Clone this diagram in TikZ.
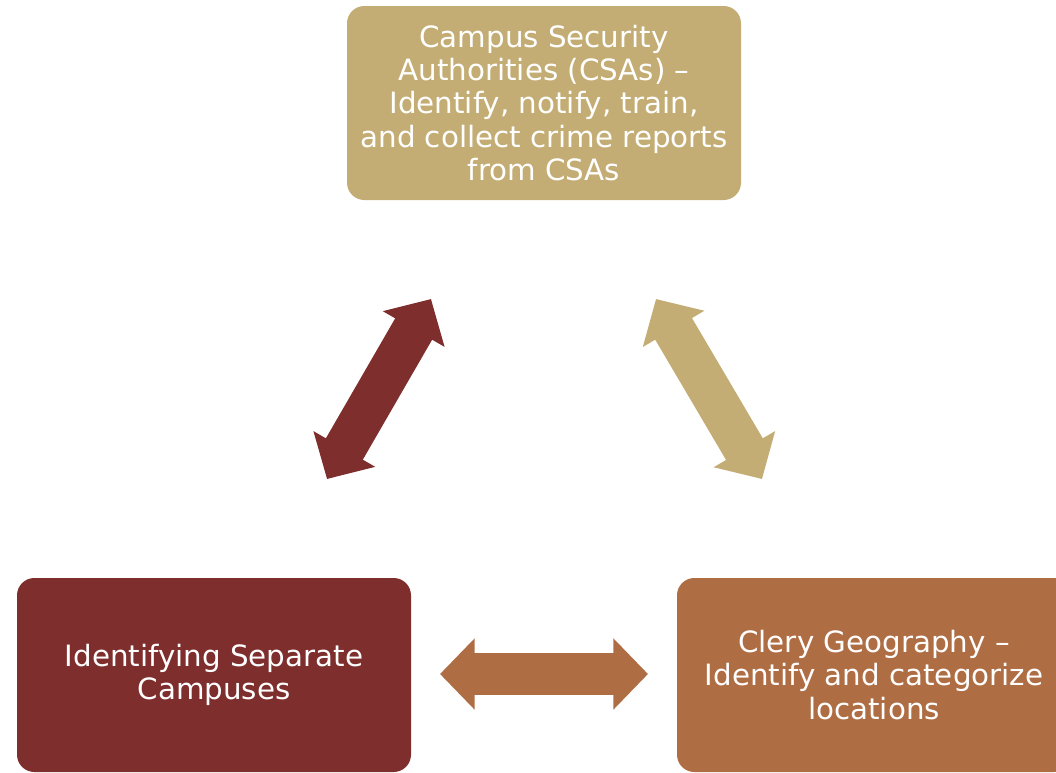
\documentclass[tikz,border=0pt]{standalone}
\usepackage{fontspec}
\setmainfont{DejaVu Sans}
\usetikzlibrary{arrows.meta}
\definecolor{csatan}{HTML}{C4AD74}
\definecolor{campusred}{HTML}{7E2E2C}
\definecolor{geocopper}{HTML}{AF6D44}
\begin{document}
\begin{tikzpicture}[x=0.75pt,y=-0.75pt,
	every node/.style={text=white,font=\fontsize{22}{25}\selectfont},
	stepbox/.style={rounded corners=13pt,minimum width=295.5pt,minimum height=145.5pt,align=center,inner sep=0pt},
	fatarrow/.style={line width=32pt,{Triangle[width=52pt,length=26pt]}-{Triangle[width=52pt,length=26pt]}}]

	\clip (0,0) rectangle (1056,772);

	\node[stepbox,fill=csatan](csa) at (544,103) {Campus Security\\Authorities (CSAs) --\\Identify, notify, train,\\and collect crime reports\\from CSAs};
	\node[stepbox,fill=campusred](campus) at (214,675) {Identifying Separate\\Campuses};
	\node[stepbox,fill=geocopper](geo) at (874,675) {Clery Geography --\\Identify and categorize\\locations};

	\coordinate (l1) at (327,479);
	\coordinate (l2) at (431,299);
	\coordinate (r1) at (656,299);
	\coordinate (r2) at (762,479);
	\coordinate (b1) at (440,674);
	\coordinate (b2) at (648,674);

	\draw[fatarrow,draw=campusred] (l1) -- (l2);
	\draw[fatarrow,draw=csatan] (r1) -- (r2);
	\draw[fatarrow,draw=geocopper] (b1) -- (b2);

\end{tikzpicture}
\end{document}
